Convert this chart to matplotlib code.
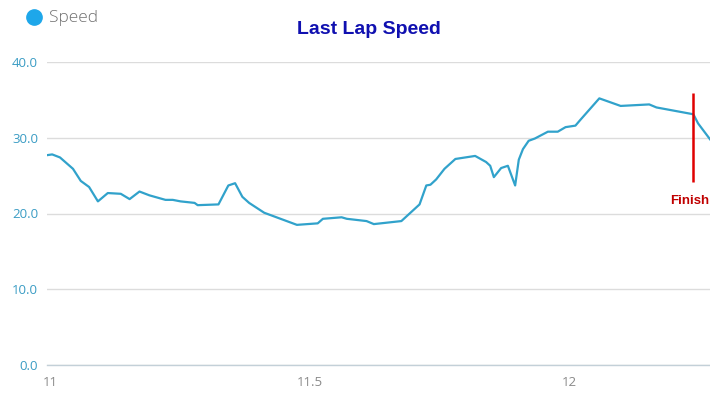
import matplotlib
matplotlib.use('Agg')
import matplotlib.pyplot as plt
from matplotlib.lines import Line2D

# Lap distance (x) and speed (y)
lap_pos = [10.994, 11.004, 11.019, 11.044, 11.059, 11.075, 11.092, 11.111,
           11.136, 11.153, 11.172, 11.191, 11.222, 11.236, 11.251, 11.278,
           11.284, 11.324, 11.343, 11.356, 11.370, 11.383, 11.412, 11.475,
           11.515, 11.525, 11.561, 11.571, 11.609, 11.623, 11.676, 11.711,
           11.724, 11.732, 11.743, 11.759, 11.780, 11.818, 11.839, 11.847,
           11.854, 11.868, 11.881, 11.895, 11.902, 11.910, 11.921, 11.933,
           11.958, 11.977, 11.992, 12.011, 12.021, 12.057, 12.098, 12.153,
           12.167, 12.238, 12.247, 12.270]
speed = [27.7, 27.8, 27.4, 25.9, 24.3, 23.5, 21.6, 22.7,
         22.6, 21.9, 22.9, 22.4, 21.8, 21.8, 21.6, 21.4,
         21.1, 21.2, 23.7, 24.0, 22.2, 21.4, 20.1, 18.5,
         18.7, 19.3, 19.5, 19.3, 19.0, 18.6, 19.0, 21.2,
         23.7, 23.8, 24.5, 25.9, 27.2, 27.6, 26.8, 26.3,
         24.8, 26.0, 26.3, 23.7, 27.1, 28.5, 29.6, 29.9,
         30.8, 30.8, 31.4, 31.6, 32.4, 35.2, 34.2, 34.4,
         34.0, 33.1, 31.9, 29.8]

finish_pos = 12.238
finish_range = [24.2, 35.9]
finish_label_y = 21.6
y_ticks = [0, 10, 20, 30, 40]
x_ticks = [11, 11.5, 12]
x_tick_labels = ['11', '11.5', '12']

line_color = '#31a2cb'

fig = plt.figure(figsize=(7.10, 3.97), dpi=100)
ax = fig.add_axes([47 / 710, 1 - 365 / 397, 663 / 710, 303 / 397])

ax.plot(lap_pos, speed, color=line_color, lw=1.6, zorder=3)
ax.vlines(finish_pos, finish_range[0], finish_range[1], color='#e00000', lw=1.8, zorder=4)
# label sits just inside the right edge, under the finish marker
ax.annotate('Finish', xy=(finish_pos, finish_label_y), xycoords='data',
            xytext=(709 / 710, finish_label_y), textcoords=('figure fraction', 'data'),
            color='#c00000', fontsize=9.5, fontweight='bold',
            family='Liberation Sans', ha='right', va='center', zorder=4)

ax.set_xlim(lap_pos[0], lap_pos[-1])
ax.set_ylim(0, 40)
ax.set_yticks(y_ticks)
ax.set_yticklabels([f'{v:.1f}' for v in y_ticks])
ax.set_xticks(x_ticks)
ax.set_xticklabels(x_tick_labels)

ax.grid(axis='y', color='#dcdcdc', lw=1)
ax.set_axisbelow(True)
for side in ['top', 'right', 'left']:
    ax.spines[side].set_visible(False)
ax.spines['bottom'].set_color('#c3d0d8')
ax.spines['bottom'].set_linewidth(1)
ax.tick_params(axis='y', length=0, pad=6.5, labelsize=9.5, labelcolor='#3a9cc4')
ax.tick_params(axis='x', length=0, pad=8, labelsize=9.5, labelcolor='#8a8a8a')
for lbl in ax.get_yticklabels() + ax.get_xticklabels():
    lbl.set_family('Open Sans')

# title and legend
fig.text(369 / 710, 1 - 30 / 397, 'Last Lap Speed', ha='center', va='center',
         fontsize=14, fontweight='bold', color='#1010b0', family='Liberation Sans')
fig.add_artist(Line2D([34 / 710], [1 - 17 / 397], marker='o', markersize=11,
                      color='#1ea7ea', transform=fig.transFigure))
fig.text(49 / 710, 1 - 18 / 397, 'Speed', ha='left', va='center', fontsize=12.5,
         color='#707070', family='Open Sans', fontweight='light')

fig.savefig('out.png', dpi=100)
